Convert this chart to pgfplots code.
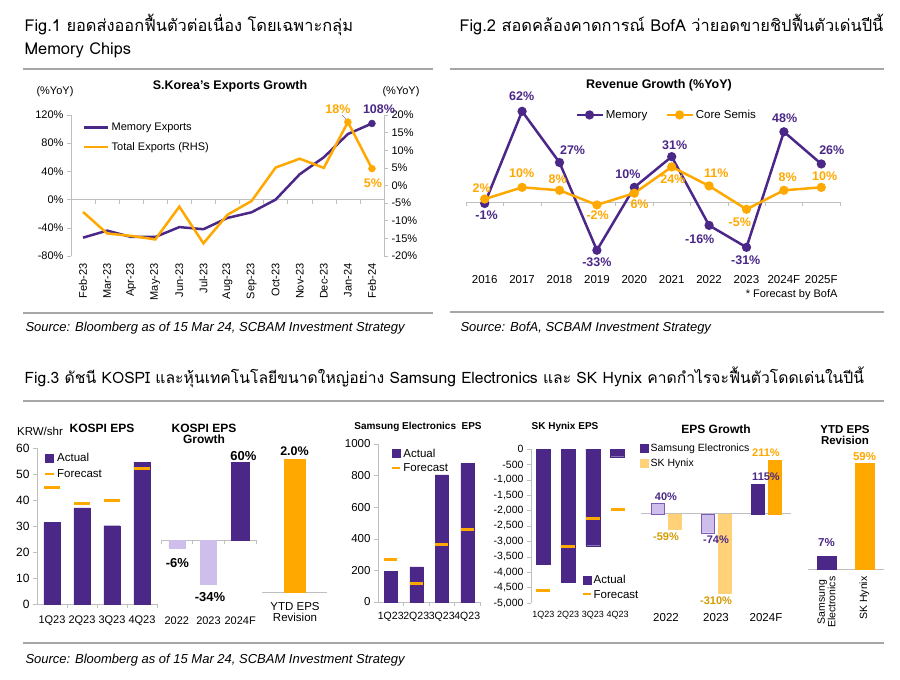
\documentclass[border=0pt]{standalone}
\usepackage{fontspec}
\setmainfont{Liberation Sans}
\newfontfamily\thai[Script=Thai]{Loma}
\usepackage{pgfplots}
\pgfplotsset{compat=1.18}

\definecolor{pur}{HTML}{4B2887}
\definecolor{org}{HTML}{FFA800}
\definecolor{lpur}{HTML}{CDBEEB}
\definecolor{lpurd}{HTML}{7A5CB8}
\definecolor{lorg}{HTML}{FFD27A}
\definecolor{gold}{HTML}{D49B00}
\definecolor{rulec}{HTML}{A6A6A6}
\definecolor{axg}{HTML}{BFBFBF}
\newcommand{\fs}[1]{\fontsize{#1}{#1}\selectfont}

\tikzset{
  ml/.style={font=\bfseries\fs{12.5}, text=pur},
  ol/.style={font=\bfseries\fs{12.5}, text=org},
}
\pgfplotsset{
  panel/.style={scale only axis, anchor=south west,
    /pgf/number format/assume math mode=true,
    scaled ticks=false, clip=false,
    axis line style={axg}, tick style={axg, line width=0.6pt},
    tick align=outside, major tick length=4pt,
    tick label style={font=\fs{11}, text=black},
    legend style={draw=none, fill=none, font=\fs{11}, inner sep=1pt},
    legend cell align=left},
  sq/.style={legend image code/.code={\fill[#1] (0pt,-3.5pt) rectangle (8pt,4.5pt);}},
}

\begin{document}
\begin{tikzpicture}
\path[use as bounding box, fill=white] (0,0) rectangle (900pt,-680pt);

% ---------- headings and rules ----------
\node[anchor=west, font=\thai\fs{16.4}] at (21pt,-25pt) {Fig.1 ยอดส่งออกฟื้นตัวต่อเนื่อง โดยเฉพาะกลุ่ม};
\node[anchor=west, font=\thai\fs{16.4}] at (21pt,-50pt) {Memory Chips};
\node[anchor=west, font=\thai\fs{16.4}] at (456pt,-25pt) {Fig.2 สอดคล้องคาดการณ์ BofA ว่ายอดขายชิปฟื้นตัวเด่นปีนี้};
\node[anchor=west, font=\thai\fs{15.7}] at (21pt,-377pt) {Fig.3 ดัชนี KOSPI และหุ้นเทคโนโลยีขนาดใหญ่อย่าง Samsung Electronics และ SK Hynix คาดกำไรจะฟื้นตัวโดดเด่นในปีนี้};
\draw[rulec, line width=1.5pt] (23pt,-69pt) -- (433pt,-69pt);
\draw[rulec, line width=1.5pt] (450pt,-69pt) -- (884pt,-69pt);
\draw[rulec, line width=1.5pt] (23pt,-313pt) -- (433pt,-313pt);
\draw[rulec, line width=1.5pt] (450pt,-312pt) -- (884pt,-312pt);
\draw[rulec, line width=1.5pt] (23pt,-401pt) -- (884pt,-401pt);
\draw[rulec, line width=1.5pt] (23pt,-643pt) -- (884pt,-643pt);
\node[anchor=west, font=\itshape\fs{13}] at (22pt,-328pt) {Source: Bloomberg as of 15 Mar 24, SCBAM Investment Strategy};
\node[anchor=west, font=\itshape\fs{13}] at (457pt,-328pt) {Source: BofA, SCBAM Investment Strategy};
\node[anchor=west, font=\itshape\fs{13}] at (22pt,-660pt) {Source: Bloomberg as of 15 Mar 24, SCBAM Investment Strategy};

% ---------- Fig.1 ----------
\node[font=\bfseries\fs{12.5}] at (230pt,-86pt) {S.Korea's Exports Growth};
\node[font=\fs{11}] at (55pt,-92pt) {(\%YoY)};
\node[font=\fs{11}] at (401pt,-92pt) {(\%YoY)};

\begin{axis}[panel, at={(71pt,-256pt)}, width=313pt, height=141pt,
  xmin=-0.5, xmax=12.5, ymin=-80, ymax=120,
  axis y line*=left, axis x line*=bottom, x axis line style={draw=none},
  ytick={-80,-40,...,120}, yticklabel={\pgfmathprintnumber{\tick}\%},
  xtick={0,...,12}, xtick style={draw=none},
  xticklabels={Feb-23,Mar-23,Apr-23,May-23,Jun-23,Jul-23,Aug-23,Sep-23,Oct-23,Nov-23,Dec-23,Jan-24,Feb-24},
  xticklabel style={rotate=90, anchor=east, font=\fs{11}},
  legend style={at={(0.035,0.965)}, anchor=north west, row sep=6pt},
  legend image code/.code={\draw[#1] (0pt,0pt) -- (24pt,0pt);}]
\draw[axg, line width=0.8pt] (axis cs:-0.5,0) -- (axis cs:12.5,0);
\pgfplotsinvokeforeach{0,...,13}{\draw[axg] (axis cs:#1-0.5,0) -- ++(0pt,-4pt);}
\addplot[pur, line width=2.5pt] coordinates {
  (0,-54) (1,-44) (2,-53) (3,-53) (4,-39) (5,-42) (6,-26)
  (7,-18) (8,0) (9,36) (10,60) (11,93) (12,108)};
\addlegendentry{Memory Exports}
\addlegendimage{org, line width=2.5pt}
\addlegendentry{Total Exports (RHS)}
\addplot[only marks, mark=*, mark size=3.5pt, pur, forget plot] coordinates {(12,108)};
\end{axis}

\begin{axis}[panel, at={(71pt,-256pt)}, width=313pt, height=141pt,
  xmin=-0.5, xmax=12.5, ymin=-20, ymax=20,
  axis y line*=right, axis x line=none,
  ytick={-20,-15,...,20}, yticklabel={\pgfmathprintnumber{\tick}\%}]
\addplot[org, line width=2.5pt] coordinates {
  (0,-7.5) (1,-13.6) (2,-14.3) (3,-15.3) (4,-6.0) (5,-16.4) (6,-8.3)
  (7,-4.4) (8,5.1) (9,7.6) (10,5.0) (11,18.0) (12,4.8)};
\addplot[only marks, mark=*, mark size=3.5pt, org] coordinates {(11,18.0) (12,4.8)};
\end{axis}
\draw[gray] (342pt,-115pt) -- (346pt,-119pt);
\node[ol] at (338pt,-109pt) {18\%};
\node[ml] at (379pt,-109pt) {108\%};
\node[ol] at (373pt,-183pt) {5\%};

% ---------- Fig.2 ----------
\node[font=\bfseries\fs{12.5}] at (659pt,-85pt) {Revenue Growth (\%YoY)};
\node[anchor=east, font=\fs{11}] at (841pt,-295pt) {* Forecast by BofA};

\begin{axis}[panel, at={(466pt,-267.8pt)}, width=374pt, height=175.5pt,
  xmin=-0.5, xmax=9.5, ymin=-45, ymax=75,
  hide y axis, axis x line*=bottom, x axis line style={draw=none},
  xtick={0,...,9}, xtick style={draw=none},
  xticklabels={2016,2017,2018,2019,2020,2021,2022,2023,2024F,2025F},
  xticklabel style={font=\fs{11.5}},
  legend columns=2,
  legend style={at={(0.289,0.871)}, anchor=west, font=\fs{11.5},
    /tikz/every even column/.append style={column sep=16pt}},
  legend image code/.code={\draw[#1] (0pt,0pt) -- (26pt,0pt); \fill[#1] (13pt,0pt) circle (3.3pt);}]
\draw[axg, line width=0.8pt] (axis cs:-0.5,0) -- (axis cs:9.5,0);
\pgfplotsinvokeforeach{0,...,10}{\draw[axg] (axis cs:#1-0.5,0) -- ++(0pt,-4pt);}
\addplot[pur, line width=2.5pt, mark=*, mark size=3.3pt] coordinates {
  (0,-1) (1,62) (2,27) (3,-33) (4,10) (5,31) (6,-16) (7,-31) (8,48) (9,26)};
\addlegendentry{Memory}
\addplot[org, line width=2.5pt, mark=*, mark size=3.3pt] coordinates {
  (0,2) (1,10) (2,8) (3,-2) (4,6) (5,24) (6,11) (7,-5) (8,8) (9,10)};
\addlegendentry{Core Semis}
\node[ml] at (axis cs:0.05,-8.9) {-1\%};
\node[ml] at (axis cs:0.99,72.5) {62\%};
\node[ml] at (axis cs:2.35,35.5) {27\%};
\node[ml] at (axis cs:3.0,-41) {-33\%};
\node[ml] at (axis cs:3.83,19.1) {10\%};
\node[ml] at (axis cs:5.08,39) {31\%};
\node[ml] at (axis cs:5.75,-25.3) {-16\%};
\node[ml] at (axis cs:6.98,-39.6) {-31\%};
\node[ml] at (axis cs:8.02,57.4) {48\%};
\node[ml] at (axis cs:9.28,35.5) {26\%};
\node[ol] at (axis cs:-0.08,9.6) {2\%};
\node[ol] at (axis cs:0.99,19.8) {10\%};
\node[ol] at (axis cs:1.95,15.7) {8\%};
\node[ol] at (axis cs:3.02,-8.9) {-2\%};
\node[ol] at (axis cs:4.14,-1.4) {6\%};
\node[ol] at (axis cs:5.03,15.7) {24\%};
\node[ol] at (axis cs:6.19,19.8) {11\%};
\node[ol] at (axis cs:6.82,-13.7) {-5\%};
\node[ol] at (axis cs:8.1,17.1) {8\%};
\node[ol] at (axis cs:9.09,17.8) {10\%};
\end{axis}

% ---------- Fig.3 panel titles ----------
\node[font=\fs{11.5}] at (40pt,-431pt) {KRW/shr};
\node[font=\bfseries\fs{12}] at (102pt,-428pt) {KOSPI EPS};
\node[font=\bfseries\fs{12}, align=center] at (204pt,-434pt) {KOSPI EPS\\[-1pt]Growth};
\node[font=\fs{11.5}, align=center] at (295pt,-612pt) {YTD EPS\\[-1pt]Revision};
\node[font=\bfseries\fs{10}] at (418pt,-427pt) {Samsung Electronics\ \ EPS};
\node[font=\bfseries\fs{10}] at (565pt,-427pt) {SK Hynix EPS};
\node[font=\bfseries\fs{12}] at (716pt,-429pt) {EPS Growth};
\node[font=\bfseries\fs{11.5}, align=center] at (845pt,-435pt) {YTD EPS\\[-1pt]Revision};

% A: KOSPI EPS
\begin{axis}[panel, at={(37pt,-604pt)}, width=120pt, height=156pt,
  xmin=-0.5, xmax=3.5, ymin=0, ymax=60, ytick={0,10,...,60},
  axis y line*=left, axis x line*=bottom,
  xtick={0,...,3}, xticklabels={1Q23,2Q23,3Q23,4Q23}, xtick style={draw=none},
  tick label style={font=\fs{12}}, xticklabel style={font=\fs{11}, yshift=-4pt},
  legend style={at={(0.05,0.985)}, anchor=north west, font=\fs{11.5}, row sep=2pt}]
\pgfplotsinvokeforeach{1,...,4}{\draw[axg] (axis cs:#1-0.5,0) -- ++(0pt,-4pt);}
\addplot[ybar, bar width=16pt, fill=pur, draw=pur, sq=pur] coordinates {
  (0,31.3) (1,37.0) (2,30.1) (3,54.5)};
\addlegendentry{Actual}
\addplot[only marks, mark=-, mark size=8pt, mark options={org, line width=3pt},
  legend image code/.code={\draw[org, line width=2pt] (0pt,0.5pt) -- (9pt,0.5pt);}] coordinates {
  (0,45) (1,38.6) (2,40) (3,52)};
\addlegendentry{Forecast}
\end{axis}

% B: KOSPI EPS growth
\begin{axis}[panel, at={(161pt,-605pt)}, width=95pt, height=156pt,
  xmin=-0.5, xmax=2.5, ymin=-50, ymax=70, hide y axis,
  axis x line*=bottom, x axis line style={draw=none},
  xtick={0,1,2}, xticklabels={2022,2023,2024F}, xtick style={draw=none},
  xticklabel style={font=\fs{11}, yshift=-4pt}]
\draw[axg, line width=0.8pt] (axis cs:-0.5,0) -- (axis cs:2.5,0);
\pgfplotsinvokeforeach{0,...,3}{\draw[axg] (axis cs:#1-0.5,0) -- ++(0pt,-4pt);}
\addplot[ybar, bar width=16pt, fill=lpur, draw=lpur] coordinates {(0,-6) (1,-34)};
\addplot[ybar, bar width=18pt, fill=pur, draw=pur] coordinates {(2,60)};
\node[font=\bfseries\fs{13}] at (axis cs:0.02,-17.7) {-6\%};
\node[font=\bfseries\fs{13}] at (axis cs:1.05,-43.8) {-34\%};
\node[font=\bfseries\fs{13}] at (axis cs:2.1,64.6) {60\%};
\end{axis}

% C: KOSPI YTD EPS revision
\begin{axis}[panel, at={(262pt,-592pt)}, width=65pt, height=146pt,
  xmin=-0.5, xmax=0.5, ymin=0, ymax=2.2, hide y axis,
  axis x line*=bottom, xtick=\empty]
\addplot[ybar, bar width=21pt, fill=org, draw=org,
  nodes near coords={\pgfmathprintnumber[fixed,fixed zerofill,precision=1]{\pgfplotspointmeta}\%},
  every node near coord/.append style={font=\bfseries\fs{12.5}, text=black}] coordinates {(0,2.0)};
\end{axis}

% D: Samsung EPS
\begin{axis}[panel, at={(378pt,-602pt)}, width=102pt, height=158pt,
  xmin=-0.5, xmax=3.5, ymin=0, ymax=1000, ytick={0,200,...,1000},
  yticklabel style={/pgf/number format/1000 sep={}},
  axis y line*=left, axis x line*=bottom,
  xtick={0,...,3}, xticklabels={1Q23,2Q23,3Q23,4Q23}, xtick style={draw=none},
  tick label style={font=\fs{11.5}}, xticklabel style={font=\fs{10.5}, yshift=-3pt},
  legend style={at={(0.12,0.99)}, anchor=north west, font=\fs{11.5}, row sep=1pt}]
\pgfplotsinvokeforeach{1,...,4}{\draw[axg] (axis cs:#1-0.5,0) -- ++(0pt,-4pt);}
\addplot[ybar, bar width=13pt, fill=pur, draw=pur, sq=pur] coordinates {
  (0,196) (1,223) (2,804) (3,878)};
\addlegendentry{Actual}
\addplot[only marks, mark=-, mark size=6.5pt, mark options={org, line width=3pt},
  legend image code/.code={\draw[org, line width=2pt] (0pt,0.5pt) -- (8pt,0.5pt);}] coordinates {
  (0,270) (1,116) (2,367) (3,460)};
\addlegendentry{Forecast}
\end{axis}

% E: SK Hynix EPS
\begin{axis}[panel, at={(531pt,-603pt)}, width=99pt, height=154pt,
  xmin=-0.5, xmax=3.5, ymin=-5000, ymax=0, ytick={-5000,-4500,...,0},
  axis y line*=left, axis x line*=bottom, x axis line style={draw=none},
  xtick={0,...,3}, xticklabels={1Q23,2Q23,3Q23,4Q23}, xtick style={draw=none},
  tick label style={font=\fs{10.5}}, xticklabel style={font=\fs{9}, yshift=-1pt},
  legend style={at={(0.5,0.2)}, anchor=north west, font=\fs{11.5}, row sep=1pt}]
\addplot[ybar, bar width=14pt, fill=pur, draw=pur, sq=pur] coordinates {
  (0,-3744) (1,-4340) (2,-3140) (3,-250)};
\addlegendentry{Actual}
\addplot[only marks, mark=-, mark size=7pt, mark options={org, line width=3pt},
  legend image code/.code={\draw[org, line width=2pt] (0pt,0.5pt) -- (8pt,0.5pt);}] coordinates {
  (0,-4580) (1,-3150) (2,-2270) (3,-1950)};
\addlegendentry{Forecast}
\end{axis}

% F: EPS growth
\begin{axis}[panel, at={(641pt,-598pt)}, width=150pt, height=160.65pt,
  xmin=-0.5, xmax=2.5, ymin=-330, ymax=300, hide y axis,
  axis x line*=bottom, x axis line style={draw=none},
  xtick={0,1,2}, xticklabels={2022,2023,2024F}, xtick style={draw=none},
  xticklabel style={font=\fs{11.5}, yshift=-8pt},
  legend style={at={(-0.013,0.977)}, anchor=north west, font=\fs{10.5}, row sep=2pt}]
\draw[axg, line width=0.8pt] (axis cs:-0.5,0) -- (axis cs:2.5,0);
\addlegendimage{sq=pur}
\addlegendentry{Samsung Electronics}
\addlegendimage{sq=lorg}
\addlegendentry{SK Hynix}
\addplot[ybar, bar width=13pt, bar shift=-8.5pt, fill=lpur, draw=lpurd,
  nodes near coords={\pgfmathprintnumber{\pgfplotspointmeta}\%},
  every node near coord/.append style={font=\bfseries\fs{11}, text=pur}] coordinates {(0,40) (1,-74)};
\addplot[ybar, bar width=13pt, bar shift=-8.5pt, fill=pur, draw=pur,
  nodes near coords={\pgfmathprintnumber{\pgfplotspointmeta}\%},
  every node near coord/.append style={font=\bfseries\fs{11}, text=pur}] coordinates {(2,115)};
\addplot[ybar, bar width=13pt, bar shift=8.5pt, fill=lorg, draw=lorg,
  nodes near coords={\pgfmathprintnumber{\pgfplotspointmeta}\%},
  every node near coord/.append style={font=\bfseries\fs{11}, text=gold}] coordinates {(0,-59) (1,-310)};
\addplot[ybar, bar width=13pt, bar shift=8.5pt, fill=org, draw=org,
  nodes near coords={\pgfmathprintnumber{\pgfplotspointmeta}\%},
  every node near coord/.append style={font=\bfseries\fs{11}, text=org}] coordinates {(2,211)};
\end{axis}

% G: YTD EPS revision
\begin{axis}[panel, at={(807.5pt,-569pt)}, width=76pt, height=125pt,
  xmin=-0.5, xmax=1.5, ymin=0, ymax=70, hide y axis,
  axis x line*=bottom, xtick={0,1}, xtick style={draw=none},
  xticklabels={{Samsung\\Electronics},{SK Hynix}},
  xticklabel style={rotate=90, anchor=east, align=center, font=\fs{10.5}}]
\addplot[ybar, bar width=19pt, fill=pur, draw=pur,
  nodes near coords={\pgfmathprintnumber{\pgfplotspointmeta}\%},
  every node near coord/.append style={font=\bfseries\fs{11.5}, text=pur, yshift=6pt}] coordinates {(0,7)};
\addplot[ybar, bar width=19pt, fill=org, draw=org,
  nodes near coords={\pgfmathprintnumber{\pgfplotspointmeta}\%},
  every node near coord/.append style={font=\bfseries\fs{11.5}, text=org}] coordinates {(1,59)};
\end{axis}
\end{tikzpicture}
\end{document}
